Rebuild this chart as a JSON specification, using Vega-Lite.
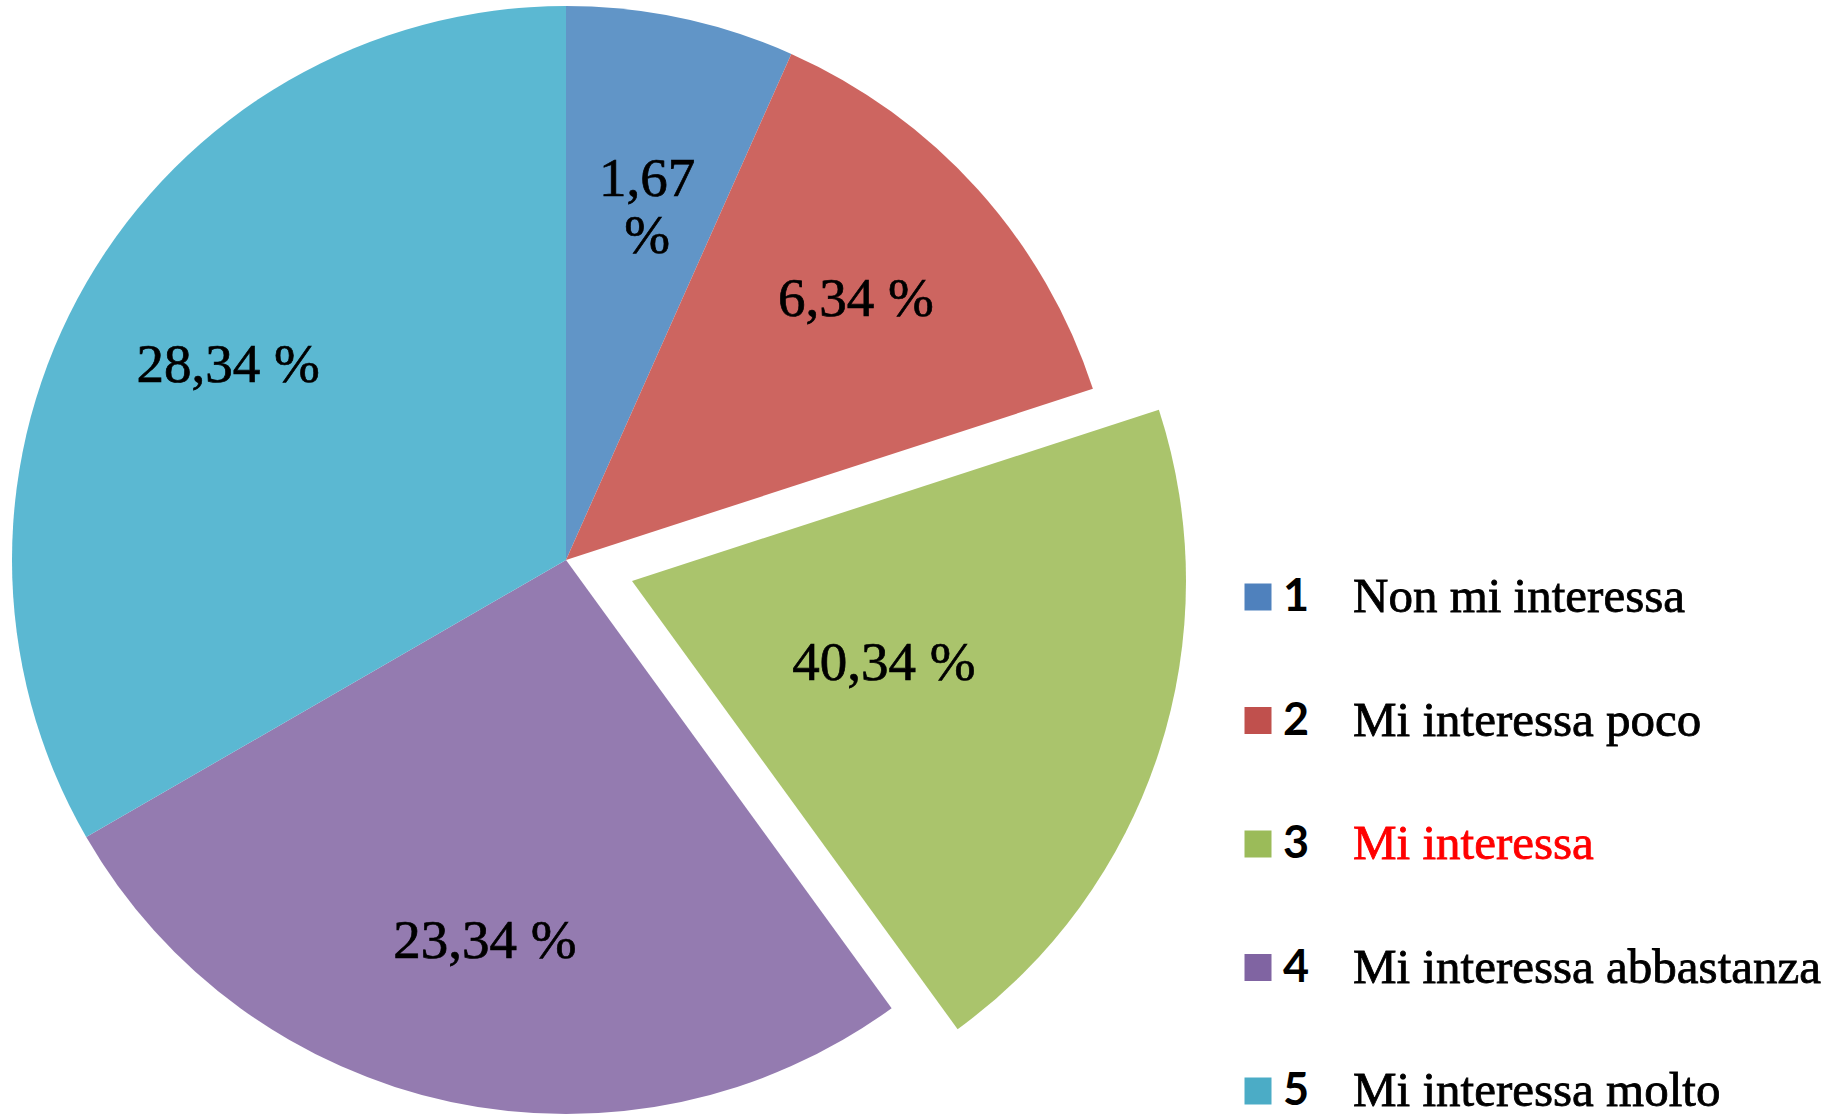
{
  "$schema": "https://vega.github.io/schema/vega-lite/v6.json",
  "padding": 0,
  "spacing": 0,
  "bounds": "flush",
  "background": "white",
  "config": {"view": {"stroke": null}},
  "datasets": {
    "d": [
      {"k": 1, "n": 1, "pct": "1,67\n%", "name": "Non mi interessa"},
      {"k": 2, "n": 2, "pct": "6,34 %", "name": "Mi interessa poco"},
      {"k": 3, "n": 3, "pct": "40,34 %", "name": "Mi interessa"},
      {"k": 4, "n": 4, "pct": "23,34 %", "name": "Mi interessa abbastanza"},
      {"k": 5, "n": 5, "pct": "28,34 %", "name": "Mi interessa molto"}
    ]
  },
  "resolve": {"scale": {"color": "independent", "y": "independent"}},
  "hconcat": [
    {
      "width": 1132,
      "height": 1114,
      "data": {"name": "d"},
      "encoding": {
        "theta": {"field": "n", "type": "quantitative", "stack": true},
        "order": {"field": "k", "type": "quantitative"},
        "color": {
          "field": "k",
          "type": "nominal",
          "scale": {"domain": [1, 2, 3, 4, 5], "range": ["#6195C7", "#CD6560", "#AAC46C", "#947BB0", "#5BB8D2"]},
          "legend": null
        }
      },
      "layer": [
        {
          "mark": {"type": "arc", "outerRadius": 554, "yOffset": 3},
          "encoding": {"opacity": {"condition": {"test": "datum.k === 3", "value": 0}, "value": 1}}
        },
        {
          "mark": {"type": "arc", "outerRadius": 554, "xOffset": 66, "yOffset": 24},
          "encoding": {"opacity": {"condition": {"test": "datum.k === 3", "value": 1}, "value": 0}}
        },
        {
          "mark": {"type": "text", "radius": 390, "yOffset": 3, "font": "Liberation Serif", "fontSize": 55, "lineBreak": "\n", "align": "center", "baseline": "middle", "stroke": "black", "strokeWidth": 0.7},
          "encoding": {
            "text": {"field": "pct", "type": "nominal"},
            "color": {"value": "black"},
            "opacity": {"condition": {"test": "datum.k === 3", "value": 0}, "value": 1}
          }
        },
        {
          "mark": {"type": "text", "radius": 265, "xOffset": 66, "yOffset": 24, "font": "Liberation Serif", "fontSize": 55, "lineBreak": "\n", "align": "center", "baseline": "middle", "stroke": "black", "strokeWidth": 0.7},
          "encoding": {
            "text": {"field": "pct", "type": "nominal"},
            "color": {"value": "black"},
            "opacity": {"condition": {"test": "datum.k === 3", "value": 1}, "value": 0}
          }
        }
      ]
    },
    {
      "width": 692,
      "height": 1114,
      "data": {"name": "d"},
      "encoding": {
        "y": {"field": "k", "type": "ordinal", "scale": {"type": "point", "padding": 0, "range": [597, 1091]}, "axis": null}
      },
      "layer": [
        {
          "mark": {"type": "square", "size": 729, "opacity": 1, "x": 126},
          "encoding": {
            "color": {
              "field": "k",
              "type": "nominal",
              "scale": {"domain": [1, 2, 3, 4, 5], "range": ["#4F81BD", "#C0504D", "#9BBB59", "#8064A2", "#4BACC6"]},
              "legend": null
            }
          }
        },
        {
          "mark": {"type": "text", "x": 151, "align": "left", "baseline": "middle", "font": "Lato", "fontWeight": "bold", "fontSize": 45, "color": "black"},
          "encoding": {"text": {"field": "k", "type": "nominal"}}
        },
        {
          "mark": {"type": "text", "x": 221, "align": "left", "baseline": "middle", "font": "Liberation Serif", "fontSize": 49, "strokeWidth": 0.8},
          "encoding": {
            "text": {"field": "name", "type": "nominal"},
            "color": {"condition": {"test": "datum.k === 3", "value": "#FF0000"}, "value": "black"},
            "stroke": {"condition": {"test": "datum.k === 3", "value": "#FF0000"}, "value": "black"}
          }
        }
      ]
    }
  ]
}
